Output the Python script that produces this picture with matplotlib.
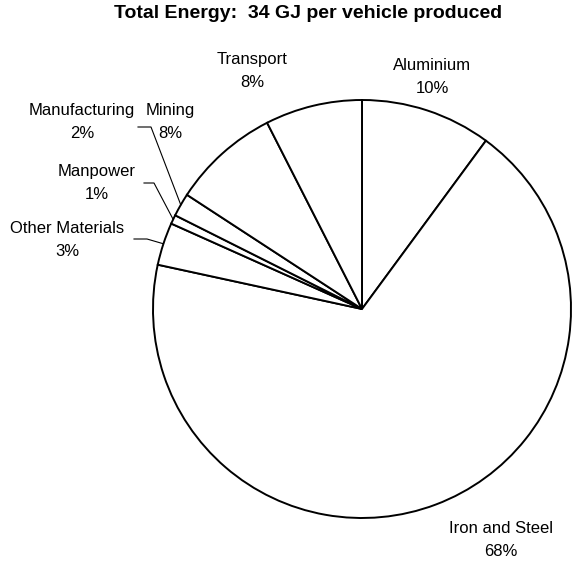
import numpy as np
import matplotlib
matplotlib.use("Agg")
import matplotlib.pyplot as plt

plt.rcParams['font.family'] = ['Liberation Sans', 'DejaVu Sans']

# energy share per source (clockwise from 12 o'clock)
sources = ["Aluminium", "Iron and Steel", "Other Materials", "Manpower",
           "Manufacturing", "Mining", "Transport"]
shares = [10.1, 68.3, 3.3, 0.7, 1.8, 8.3, 7.5]

W, H = 576, 563
fig = plt.figure(figsize=(W / 100, H / 100), dpi=100)
ax = fig.add_axes([0, 0, 1, 1])

cx, cy, r = 362, H - 309, 209
wedges, _ = ax.pie(shares, center=(cx, cy), radius=r, startangle=90,
                   counterclock=False,
                   wedgeprops=dict(facecolor="white", edgecolor="black",
                                   linewidth=1.4))
ax.set_xlim(0, W)
ax.set_ylim(0, H)
ax.set_aspect("auto")
ax.axis("off")

# label centres in pixel coords (x, y from top)
label_pos = {
    "Aluminium": (432, 77),
    "Iron and Steel": (501, 540),
    "Other Materials": (67, 240),
    "Manpower": (97, 183),
    "Manufacturing": (82, 122),
    "Mining": (170, 122),
    "Transport": (252, 71),
}
# leaders: (start x, elbow x, y) in pixel coords
leaders = {
    "Manufacturing": (138, 151, 127),
    "Manpower": (144, 154, 183),
    "Other Materials": (134, 147, 239),
}

for w, name, val in zip(wedges, sources, shares):
    lx, ly = label_pos[name]
    ax.text(lx, H - ly, f"{name}\n{round(val)}%", ha="center", va="center",
            fontsize=12, linespacing=1.6)
    if name in leaders:
        x0, x1, y0 = leaders[name]
        mid = np.deg2rad((w.theta1 + w.theta2) / 2)
        ex, ey = cx + r * np.cos(mid), cy + r * np.sin(mid)
        ax.plot([x0, x1, ex], [H - y0, H - y0, ey], color="black", lw=0.8)

ax.text(308, H - 14, "Total Energy:  34 GJ per vehicle produced",
        ha="center", va="center", fontsize=14, fontweight="bold")

fig.savefig("out.png", dpi=100)
